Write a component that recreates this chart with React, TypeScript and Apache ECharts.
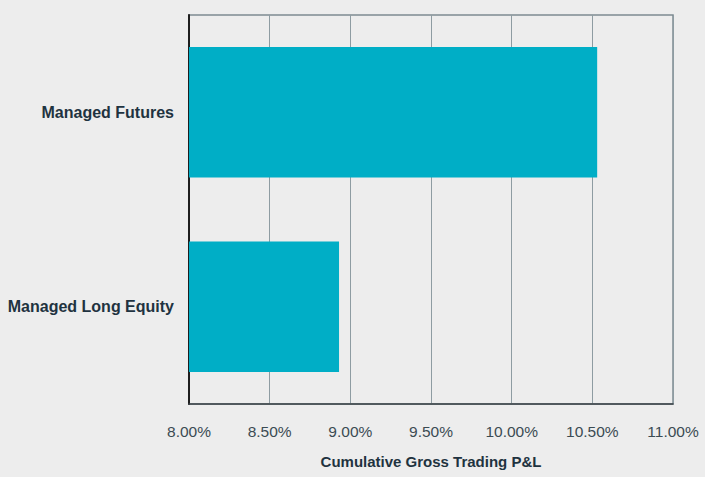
import React, { useEffect, useRef } from "react";
import * as echarts from "echarts";

const categories = ["Managed Long Equity", "Managed Futures"];
const values = [8.93, 10.53];
const xTicks = [8, 8.5, 9, 9.5, 10, 10.5, 11];
const axisTitle = "Cumulative Gross Trading P&L";

const FONT = "'Liberation Sans', Arial, sans-serif";

export default function App() {
  const ref = useRef<HTMLDivElement>(null);
  useEffect(() => {
    document.body.style.margin = "0";
    const chart = echarts.init(ref.current!, null, { renderer: "svg" });
    chart.setOption({
      animation: false,
      backgroundColor: "#ededed",
      grid: {
        left: 189,
        right: 32,
        top: 15,
        bottom: 73,
        show: true,
        borderColor: "#7d8b91",
        borderWidth: 1.5,
        backgroundColor: "transparent",
      },
      xAxis: {
        type: "value",
        min: xTicks[0],
        max: xTicks[xTicks.length - 1],
        interval: 0.5,
        name: axisTitle,
        nameLocation: "middle",
        nameGap: 50,
        nameTextStyle: { fontFamily: FONT, fontWeight: "bold", fontSize: 15, color: "#1f3340" },
        axisLine: { show: true, lineStyle: { color: "#3a4246", width: 1.5 } },
        axisTick: { show: false },
        axisLabel: {
          fontFamily: FONT,
          fontSize: 15.5,
          color: "#3b4b53",
          margin: 19,
          formatter: (v: number) => v.toFixed(2) + "%",
        },
        splitLine: { show: true, lineStyle: { color: "#8e9ca2", width: 1 } },
      },
      yAxis: {
        type: "category",
        data: categories,
        axisLine: { show: true, lineStyle: { color: "#1e1e1e", width: 2 } },
        axisTick: { show: false },
        axisLabel: {
          fontFamily: FONT,
          fontWeight: "bold",
          fontSize: 16,
          color: "#1f3340",
          margin: 15,
        },
        splitLine: { show: false },
      },
      series: [
        {
          type: "bar",
          data: values,
          barCategoryGap: "33%",
          itemStyle: { color: "#00aec6" },
        },
      ],
    });
    return () => chart.dispose();
  }, []);
  return <div ref={ref} style={{ width: 705, height: 477 }} />;
}
